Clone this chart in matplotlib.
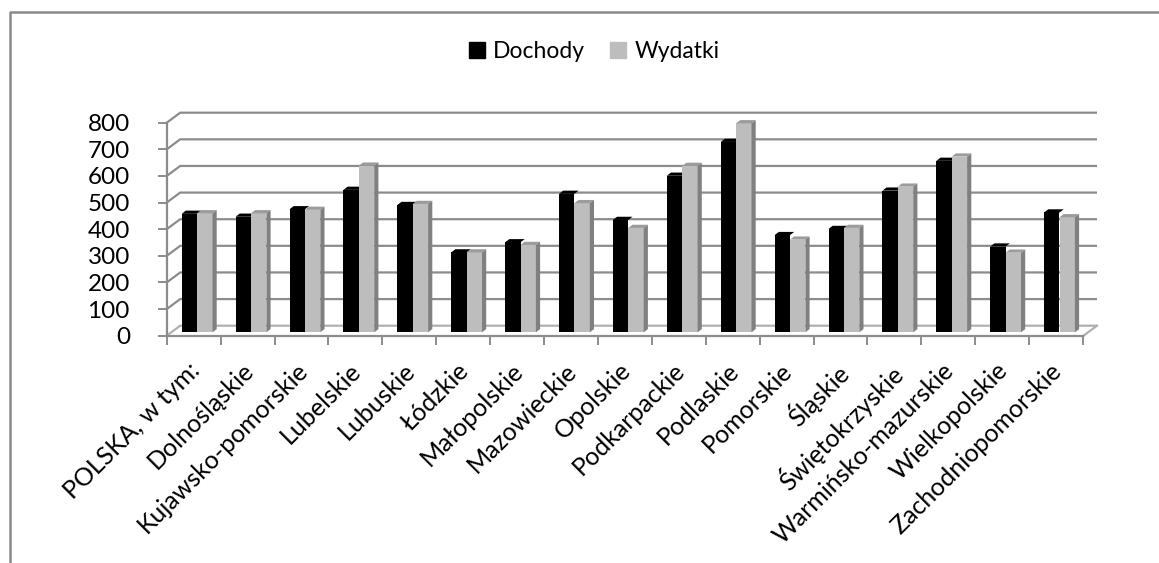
"""Dochody i wydatki per capita, wojewodztwa - pseudo-3D column chart -> out.png"""
import matplotlib
matplotlib.use("Agg")
import matplotlib.pyplot as plt

regions = ["POLSKA, w tym:", "Dolnośląskie", "Kujawsko-pomorskie", "Lubelskie", "Lubuskie",
           "Łódzkie", "Małopolskie", "Mazowieckie", "Opolskie", "Podkarpackie", "Podlaskie",
           "Pomorskie", "Śląskie", "Świętokrzyskie", "Warmińsko-mazurskie", "Wielkopolskie",
           "Zachodniopomorskie"]
dochody = [445, 434, 462, 535, 478, 300, 338, 520, 422, 588, 715, 365, 388, 532, 644, 322, 450]
wydatki = [447, 447, 460, 626, 482, 300, 328, 485, 392, 625, 785, 348, 392, 547, 660, 299, 432]
yticks = [0, 100, 200, 300, 400, 500, 600, 700, 800]

W, H = 1159, 563
PX_X, PX_Y = 53.9, 213 / 800   # px per category, px per value unit
X0, Y0 = 166.7, 335.7          # pixel position of the axes origin
GRID, SIDE, TOP = "#8c8c8c", "#808080", "#9c9c9c"
BLACK, GRAY = "#000000", "#bdbdbd"

plt.rcParams["font.family"] = ["Lato", "DejaVu Sans"]
fig = plt.figure(figsize=(W / 100, H / 100), dpi=100, facecolor="white")
ax = fig.add_axes([0, 0, 1, 1], facecolor="none")
ax.set_xlim(-X0 / PX_X, (W - X0) / PX_X)
ax.set_ylim(-(H - Y0) / PX_Y, Y0 / PX_Y)

def dx(px): return px / PX_X
def dy(px): return px / PX_Y

# back wall: gridlines, with the short diagonal back to the value axis
wall_x, wall_y = dx(13.5), dy(10)
for v in yticks:
    lc = "#b0b0b0" if v == 0 else GRID
    ax.plot([0, wall_x, dx(1083.5 + 13.5 - X0)], [v, v + wall_y, v + wall_y], color=lc, lw=1.6, zorder=1,
            solid_capstyle="butt", solid_joinstyle="miter")
ax.plot([dx(1083.5 - X0), dx(1083.5 + 13.5 - X0)], [0, wall_y], color="#b0b0b0", lw=1.6, zorder=1)

# columns
bar_w = 15.4 / PX_X
x_first = 15 / PX_X
base = dy(3.4)
depth_x, depth_y = dx(4.2), dy(3.2)
for i, (d, w) in enumerate(zip(dochody, wydatki)):
    xb = i + x_first
    xg = xb + bar_w
    ax.bar(xb, d, bar_w, bottom=base, align="edge", color=BLACK, zorder=3)
    top = base + d
    ax.fill([xb, xb + depth_x, xb + bar_w + depth_x, xb + bar_w],
            [top, top + depth_y, top + depth_y, top], color=BLACK, lw=0, zorder=3)
    ax.bar(xg, w, bar_w, bottom=base, align="edge", color=GRAY, zorder=4)
    top = base + w
    ax.fill([xg, xg + depth_x, xg + bar_w + depth_x, xg + bar_w],
            [top, top + depth_y, top + depth_y, top], color=TOP, lw=0, zorder=4)
    ax.fill([xg + bar_w, xg + bar_w + depth_x, xg + bar_w + depth_x, xg + bar_w],
            [base, base + depth_y, top + depth_y, top], color=SIDE, lw=0, zorder=4)

# axes
for s in ("top", "right"):
    ax.spines[s].set_visible(False)
ax.spines["left"].set_position(("data", 0))
ax.spines["bottom"].set_position(("data", 0))
ax.spines["left"].set_bounds(0, 800)
ax.spines["bottom"].set_bounds(0, len(regions))
for s in ("left", "bottom"):
    ax.spines[s].set_color(GRID)
    ax.spines[s].set_linewidth(1.6)
    ax.spines[s].set_zorder(5)
ax.set_yticks(yticks)
ax.set_xticks(range(len(regions) + 1))
ax.set_xticklabels([])
ax.tick_params(axis="y", length=6.5, width=1.4, color=GRID, labelsize=17.5, pad=20, labelcolor="black")
ax.tick_params(axis="x", length=6.5, width=1.4, color=GRID)
for i, name in enumerate(regions):
    ax.annotate(name, (i + 0.5, 0), xytext=(-6, -23), textcoords="offset pixels", rotation=45,
                rotation_mode="anchor", ha="right", va="top", fontsize=18, color="black")

# legend, placed by hand like the office chart
ax.legend(handles=[plt.Rectangle((0, 0), 1, 1, color=BLACK), plt.Rectangle((0, 0), 1, 1, color=GRAY)],
          labels=["Dochody", "Wydatki"], ncol=2, frameon=False, fontsize=16.5, loc="center",
          bbox_to_anchor=(594 / W, 1 - 52 / H), handlelength=0.7, handleheight=0.7,
          handletextpad=0.35, columnspacing=1.1)

# chart frame, cut off at the right and bottom of the screenshot
fig.add_artist(plt.Line2D([9.5 / W, 9.5 / W, 1], [0, 1 - 11.5 / H, 1 - 11.5 / H], color="#8a8a8a", lw=1.8))
fig.savefig("out.png", dpi=100)
